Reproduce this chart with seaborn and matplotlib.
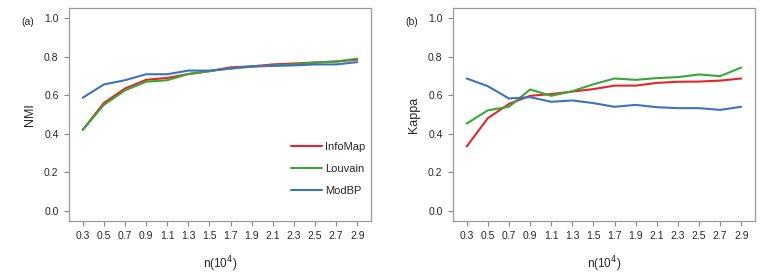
import numpy as np
import pandas as pd
import matplotlib
matplotlib.use("Agg")
import matplotlib.pyplot as plt
import seaborn as sns

n_labels = ["0.3", "0.5", "0.7", "0.9", "1.1", "1.3", "1.5",
            "1.7", "1.9", "2.1", "2.3", "2.5", "2.7", "2.9"]
methods = ["InfoMap", "Louvain", "ModBP"]

nmi_infomap = [0.42, 0.56, 0.635, 0.68, 0.69, 0.71, 0.725, 0.745, 0.75, 0.76, 0.765, 0.77, 0.775, 0.785]
nmi_louvain = [0.42, 0.55, 0.625, 0.67, 0.678, 0.71, 0.725, 0.74, 0.748, 0.755, 0.76, 0.77, 0.775, 0.79]
nmi_modbp = [0.587, 0.656, 0.678, 0.709, 0.709, 0.728, 0.728, 0.738, 0.75, 0.752, 0.755, 0.76, 0.76, 0.772]

kappa_infomap = [0.334, 0.481, 0.555, 0.597, 0.606, 0.619, 0.632, 0.65, 0.65, 0.664, 0.67, 0.671, 0.676, 0.687]
kappa_louvain = [0.453, 0.522, 0.54, 0.63, 0.597, 0.621, 0.657, 0.687, 0.68, 0.689, 0.694, 0.708, 0.699, 0.744]
kappa_modbp = [0.687, 0.647, 0.583, 0.59, 0.566, 0.573, 0.559, 0.54, 0.55, 0.538, 0.533, 0.533, 0.524, 0.54]

colors = {"InfoMap": "#e3262b", "Louvain": "#3aa63a", "ModBP": "#3f72b8"}


def make_df(series):
    rows = []
    for m, vals in zip(methods, series):
        for x, v in zip(n_labels, vals):
            rows.append({"n": x, "value": v, "method": m})
    return pd.DataFrame(rows)


nmi_df = make_df([nmi_infomap, nmi_louvain, nmi_modbp])
kappa_df = make_df([kappa_infomap, kappa_louvain, kappa_modbp])

sns.set_style("white")
plt.rcParams["font.family"] = ["Liberation Sans", "DejaVu Sans"]

fig = plt.figure(figsize=(7.63, 2.73), dpi=100)
ax1 = fig.add_axes([69 / 763, 52 / 273, 302 / 763, 213 / 273])
ax2 = fig.add_axes([453 / 763, 52 / 273, 302 / 763, 213 / 273])

for ax, df, ylab, tag in [(ax1, nmi_df, "NMI", "(a)"), (ax2, kappa_df, "Kappa", "(b)")]:
    sns.lineplot(data=df, x="n", y="value", hue="method", palette=colors,
                 linewidth=1.5, ax=ax, legend=(ax is ax1))
    ax.set_xlim(-0.65, 13.65)
    ax.set_ylim(-0.053, 1.053)
    ax.set_yticks([0.0, 0.2, 0.4, 0.6, 0.8, 1.0])
    ax.set_yticklabels(["0.0", "0.2", "0.4", "0.6", "0.8", "1.0"])
    ax.set_xlabel("n(10$^4$)", fontsize=8.5, labelpad=9)
    ax.set_ylabel(ylab, fontsize=9, labelpad=6)
    ax.tick_params(axis="both", labelsize=7.5, length=3.5, width=0.8,
                   color="#888888", direction="out", bottom=True, left=True, pad=4)
    for s in ax.spines.values():
        s.set_color("#999999")
        s.set_linewidth(0.9)
    fig.text(ax.get_position().x0 - 48 / 763, 1 - 25 / 273, tag, fontsize=7.5)

leg = ax1.legend(loc="lower right", frameon=False, fontsize=8,
                 handlelength=2.8, labelspacing=1.1, handletextpad=0.3,
                 borderaxespad=0.1, bbox_to_anchor=(1.0, 0.09))

fig.savefig("out.png", dpi=100)
